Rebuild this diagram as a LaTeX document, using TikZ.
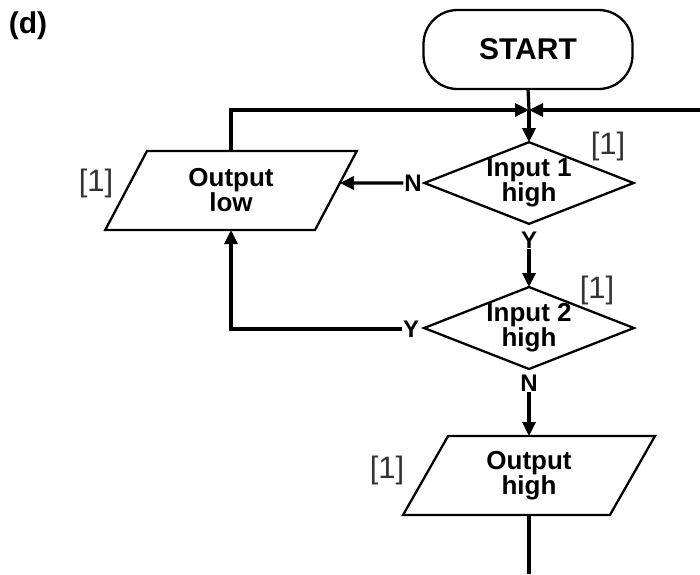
\documentclass[tikz,border=0pt]{standalone}
\usepackage{fontspec}
\setmainfont{Liberation Sans}
\usetikzlibrary{shapes.geometric,arrows.meta}
\begin{document}
\begin{tikzpicture}[x=1pt,y=-1pt,
  box/.style={draw, line width=2.3pt, inner sep=0pt, outer sep=0pt, align=center,
    font=\fontsize{26}{25}\selectfont\bfseries},
  startbox/.style={box, rectangle, rounded corners=34pt, minimum width=209pt,
    minimum height=79pt, font=\fontsize{30}{30}\selectfont\bfseries},
  decision/.style={box, diamond, aspect=2.56, minimum width=205pt, minimum height=80pt},
  io/.style={box, trapezium, trapezium left angle=64, trapezium right angle=116,
    trapezium stretches=true, minimum width=252pt, minimum height=79pt},
  yn/.style={font=\fontsize{24}{24}\selectfont\bfseries, inner sep=0pt, outer sep=1pt},
  marklbl/.style={font=\fontsize{31}{31}\selectfont, text=black!80, inner sep=0pt},
  conn/.style={line width=3.2pt},
  arr/.style={conn, -{Triangle[length=14pt,width=13pt]}},
]
\useasboundingbox (0,0) rectangle (700,574);

\node[font=\fontsize{30}{30}\selectfont\bfseries, inner sep=0pt] (title) at (28,26) {(d)};

\node[startbox] (start) at (528,49.5) {START};
\coordinate (j) at (529,110);
\coordinate (rightend) at (700,110);

\node[decision] (d1) at (529,183) {Input 1\\high};
\node[decision] (d2) at (529,328) {Input 2\\high};
\node[io] (ol) at (231,190.5) {Output\\low};
\node[io] (oh) at (529,475.5) {Output\\high};
\coordinate (bottomend) at (529,574);

\node[yn] (n1) at (413,183) {N};
\node[yn] (y1) at (529,240) {Y};
\node[yn] (y2) at (411,329) {Y};
\node[yn] (n2) at (529,383) {N};

\node[marklbl] (m1) at (608,146) {[1]};
\node[marklbl] (m2) at (597,290) {[1]};
\node[marklbl] (m3) at (96,183) {[1]};
\node[marklbl] (m4) at (387,470) {[1]};

% connectors
\draw[conn] (start.south) -- (j);
\draw[arr] (ol.top left corner -| ol.center) |- (j);
\draw[arr] (rightend) -- (j);
\draw[arr] (j) -- (d1.north);
\draw[arr] (n1.west) -- (intersection of ol.top right corner--ol.bottom right corner and n1.west--d1.west);
\draw[arr] (y1.south) -- (d2.north);
\draw[arr] (y2.west) -| (ol.bottom left corner -| ol.center);
\draw[arr] (n2.south) -- (oh.top left corner -| oh.center);
\draw[conn] (oh.bottom left corner -| oh.center) -- (bottomend);
\end{tikzpicture}
\end{document}
